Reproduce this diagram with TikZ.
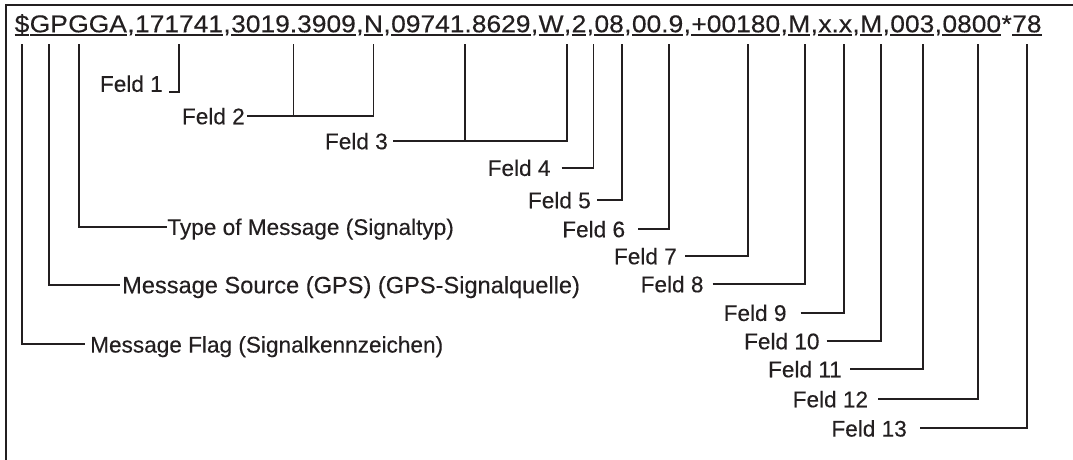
\documentclass[tikz,border=0pt]{standalone}
\usepackage{fontspec}
\setmainfont[FakeBold=0.3]{Liberation Sans}
\newfontfamily\seqfont[FakeStretch=1.081,FakeBold=0.3]{Liberation Sans}
\usetikzlibrary{calc}
\definecolor{ink}{HTML}{231F20}
\newcommand{\uln}[1]{\setbox0\hbox{#1}\rlap{\rule[-3.8pt]{\wd0}{1.6pt}}\box0}
\tikzset{
  fld/.style={anchor=base west,inner xsep=0pt,inner ysep=12pt,text depth=0pt,text=ink,
    font=\seqfont\fontsize{24.4}{29}\selectfont},
  feld/.style={inner ysep=0pt,text height=16.5pt,text depth=0pt,text=ink,
    font=\fontsize{22.6}{27}\selectfont},
  note/.style={feld,anchor=west},
  lead/.style={draw=ink,line width=1.9pt}
}
\begin{document}
\begin{tikzpicture}[x=1pt,y=1pt]
\useasboundingbox (0,0) rectangle (1073,-460);
\draw[ink,line width=2pt] (1073,-4.7) -- (6,-4.7) -- (6,-460);
% GGA sentence
\node[fld] (flag) at (14.5,-32.3) {\uln{\$}};
\node[fld] (src) at (flag.base east) {\uln{GP}};
\node[fld] (type) at (src.base east) {\uln{GGA}};
\node[fld] (c0) at (type.base east) {,};
\node[fld] (utc) at (c0.base east) {\uln{171741}};
\node[fld] (c1) at (utc.base east) {,};
\node[fld] (lat) at (c1.base east) {\uln{3019.3909}};
\node[fld] (c2) at (lat.base east) {,};
\node[fld] (ns) at (c2.base east) {\uln{N}};
\node[fld] (c3) at (ns.base east) {,};
\node[fld] (lon) at (c3.base east) {\uln{09741.8629}};
\node[fld] (c4) at (lon.base east) {,};
\node[fld] (ew) at (c4.base east) {\uln{W}};
\node[fld] (c5) at (ew.base east) {,};
\node[fld] (fix) at (c5.base east) {\uln{2}};
\node[fld] (c6) at (fix.base east) {,};
\node[fld] (sats) at (c6.base east) {\uln{08}};
\node[fld] (c7) at (sats.base east) {,};
\node[fld] (hdop) at (c7.base east) {\uln{00.9}};
\node[fld] (c8) at (hdop.base east) {,};
\node[fld] (alt) at (c8.base east) {\uln{+00180}};
\node[fld] (c9) at (alt.base east) {,};
\node[fld] (altu) at (c9.base east) {\uln{M}};
\node[fld] (c10) at (altu.base east) {,};
\node[fld] (geo) at (c10.base east) {\uln{x.x}};
\node[fld] (c11) at (geo.base east) {,};
\node[fld] (geou) at (c11.base east) {\uln{M}};
\node[fld] (c12) at (geou.base east) {,};
\node[fld] (age) at (c12.base east) {\uln{003}};
\node[fld] (c13) at (age.base east) {,};
\node[fld] (stn) at (c13.base east) {\uln{0800}};
\node[fld] (star) at (stn.base east) {*};
\node[fld] (chk) at (star.base east) {\uln{78}};
% labels
\node[feld,anchor=south east,inner xsep=6pt] (l1) at (169,-92) {Feld 1};
\node[feld,anchor=east,inner xsep=2pt] (l2) at (247,-116) {Feld 2};
\node[feld,anchor=east,inner xsep=5pt] (l3) at (393,-141) {Feld 3};
\node[feld,anchor=east,inner xsep=11pt] (l4) at (561.7,-167.7) {Feld 4};
\node[feld,anchor=east,inner xsep=6pt] (l5) at (597,-200) {Feld 5};
\node[feld,anchor=east,inner xsep=13pt] (l6) at (638.3,-229) {Feld 6};
\node[feld,anchor=east,inner xsep=8pt] (l7) at (685,-256) {Feld 7};
\node[feld,anchor=east,inner xsep=9pt] (l8) at (712.7,-284) {Feld 8};
\node[feld,anchor=east,inner xsep=14pt] (l9) at (800.7,-312.7) {Feld 9};
\node[feld,anchor=east,inner xsep=7pt] (l10) at (826.7,-341) {Feld 10};
\node[feld,anchor=east,inner xsep=8pt] (l11) at (850,-369) {Feld 11};
\node[feld,anchor=east,inner xsep=10pt] (l12) at (878.3,-399) {Feld 12};
\node[feld,anchor=east,inner xsep=13pt] (l13) at (920,-428.3) {Feld 13};
\node[note,inner xsep=0.5pt] (ltype) at (166.7,-226.7) {Type of Message (Signaltyp)};
\node[note,inner xsep=2pt,font=\fontsize{23.6}{28}\selectfont] (lsrc) at (120,-285) {Message Source (GPS) (GPS-Signalquelle)};
\node[note,inner xsep=5pt] (lflag) at (85,-344.3) {Message Flag (Signalkennzeichen)};
% leaders
\draw[lead] (flag.south) |- (lflag.west);
\draw[lead] (src.south) |- (lsrc.west);
\draw[lead] ([xshift=11pt]type.south west) |- (ltype.west);
\draw[lead] (l1.south east) -| (utc.south);
\draw[lead] (l2.east) -| (lat.south);
\draw[lead] (l2.east) -| (ns.south);
\draw[lead] (l3.east) -| ([xshift=4pt]lon.south);
\draw[lead] (l3.east) -| ([xshift=3pt]ew.south east);
\draw[lead] (l4.east) -| ([xshift=7pt]fix.south east);
\draw[lead] (l5.east) -| ([xshift=13pt]sats.south);
\draw[lead] (l6.east) -| ([xshift=11pt]hdop.south);
\draw[lead] (l7.east) -| ([xshift=12pt]alt.south);
\draw[lead] (l8.east) -| ([xshift=6pt]altu.south);
\draw[lead] (l9.east) -| ([xshift=9pt]geo.south);
\draw[lead] (l10.east) -| ([xshift=10pt]geou.south);
\draw[lead] (l11.east) -| ([xshift=11pt]age.south);
\draw[lead] (l12.east) -| ([xshift=6pt]stn.south);
\draw[lead] (l13.east) -| (chk.south);
\end{tikzpicture}
\end{document}
